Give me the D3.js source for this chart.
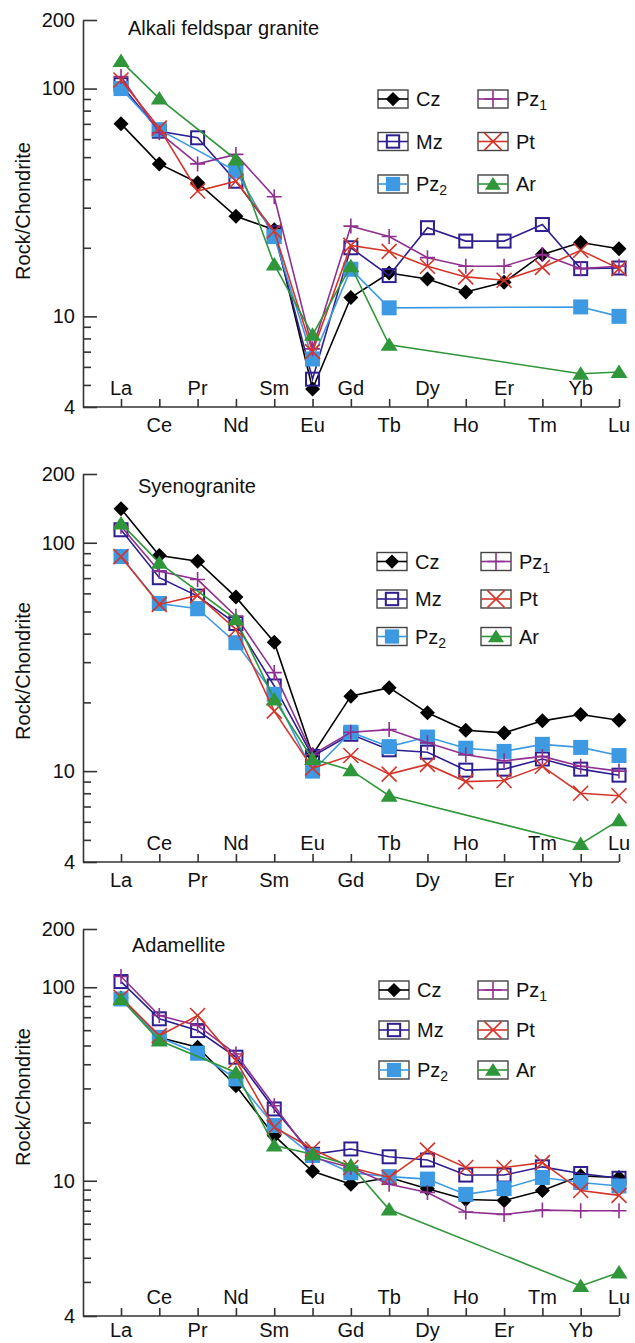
<!DOCTYPE html>
<html>
<head>
<meta charset="utf-8">
<script src="https://cdn.jsdelivr.net/npm/d3@7"></script>
<style>
  body { margin: 0; background: #fff; }
  text { font-family: "Liberation Sans", Arial, sans-serif; fill: #111; }
</style>
</head>
<body>
<div id="chart"></div>
<script>
const width = 635;
const height = 1343;

// REE order along the x axis
const elements = ['La', 'Ce', 'Pr', 'Nd', 'Sm', 'Eu', 'Gd', 'Tb', 'Dy', 'Ho', 'Er', 'Tm', 'Yb', 'Lu'];
// drawing order == legend order (column by column)
const series = ['Cz', 'Mz', 'Pz2', 'Pz1', 'Pt', 'Ar'];
const titles = ['Alkali feldspar granite', 'Syenogranite', 'Adamellite'];

// chondrite normalised values (null = no point plotted)
const alkali_cz  = [70, 46.7, 38.6, 27.5, 24, 4.8, 12.1, 15.5, 14.6, 12.8, 14.1, 18.7, 21.1, 19.8];
const alkali_mz  = [104, 65, 60.8, 39.2, 23.3, 5.3, 20, 15.1, 24.5, 21.4, 21.4, 25.3, 16.2, 16.3];
const alkali_pz2 = [100, 66, null, 43.4, 22.4, 6.5, 16.1, 10.9, null, null, null, null, 11.0, 10.0];
const alkali_pz1 = [113, 64, 46.7, 51.4, 33.5, 7.2, 24.9, 22.4, 18.1, 16.6, 16.6, 18.7, 16.2, 16.6];
const alkali_pt  = [109, 67, 35.5, 39.2, 23.7, 7.0, 20.5, 19.3, 16.6, 14.9, 14.4, 16.4, 19.5, 16.2];
const alkali_ar  = [132, 90.4, null, 48.8, 16.9, 8.3, 16.6, 7.5, null, null, null, null, 5.6, 5.7];

const syeno_cz  = [141, 88, 83, 57.8, 36.7, 11.8, 21.3, 23.2, 18.0, 15.1, 14.7, 16.6, 17.7, 16.7];
const syeno_mz  = [114, 70.3, 58.4, 44.3, 23.6, 11.6, 14.5, 12.4, 12.1, 10.1, 10.2, 11.3, 10.2, 9.6];
const syeno_pz2 = [87, 54.2, 51.4, 36.5, 21.7, 10.0, 14.8, 12.8, 14.1, 12.6, 12.2, 13.1, 12.7, 11.7];
const syeno_pz1 = [118, 75, 69, 47.7, 27, 11.8, 14.8, 15.2, 13.3, 11.8, 11.1, 11.6, 10.5, 10.0];
const syeno_pt  = [86.9, 53.7, 58.8, 41.7, 18.3, 10.3, 11.7, 9.7, 10.7, 9.0, 9.1, 10.5, 8.0, 7.8];
const syeno_ar  = [121.5, 81.7, null, 46.2, 20.6, 11.3, 10.1, 7.8, null, null, null, null, 4.8, 6.1];

const adam_cz  = [88, 55, 49, 31, 17.1, 11.2, 9.6, 10.4, 9.1, 8.0, 7.9, 8.9, 10.6, 10.4];
const adam_mz  = [107, 68.7, 59.7, 43.5, 23.5, 13.7, 14.6, 13.3, 12.8, 10.7, 10.7, 11.8, 10.9, 10.3];
const adam_pz2 = [87, 55.1, 45.6, 33.6, 19.3, 13.5, 11.0, 10.5, 10.2, 8.5, 9.1, 10.4, 9.8, 9.4];
const adam_pz1 = [113.6, 71.4, 63.4, 45.2, 24.4, 13.2, 11.7, 9.6, 8.7, 6.9, 6.7, 7.05, 7.0, 7.0];
const adam_pt  = [88.8, 56.2, 71.4, 41.8, 18.9, 14.6, 11.7, 10.4, 14.4, 11.7, 11.7, 12.4, 8.9, 8.4];
const adam_ar  = [87, 53, null, 36.3, 15.2, 13.7, 12.0, 7.1, null, null, null, null, 2.86, 3.36];

// y axis: domains, labelled ticks and their labels (the last panel is labelled "4" at its foot)
const y_domains = [[4, 200], [4, 200], [2, 200]];
const y_major = [[4, 10, 100, 200], [4, 10, 100, 200], [2, 10, 100, 200]];
const y_major_labels = [['4', '10', '100', '200'], ['4', '10', '100', '200'], ['4', '10', '100', '200']];
const y_minor = [
  [5, 6, 7, 8, 9, 20, 30, 40, 50, 60, 70, 80, 90],
  [5, 6, 7, 8, 9, 20, 30, 40, 50, 60, 70, 80, 90],
  [3, 4, 5, 6, 7, 8, 9, 20, 30, 40, 50, 60, 70, 80, 90]
];

const panel_data = [
  [alkali_cz, alkali_mz, alkali_pz2, alkali_pz1, alkali_pt, alkali_ar],
  [syeno_cz, syeno_mz, syeno_pz2, syeno_pz1, syeno_pt, syeno_ar],
  [adam_cz, adam_mz, adam_pz2, adam_pz1, adam_pt, adam_ar]
];

// ---- layout ----
const axis_x = 83;
const x_range = [121, 619];
const panels = [
  { top: 20,  bottom: 407,  title: [128, 35],  ylab: 211,  inside_even: true,  below: 25,
    legend: { x1: 378, x2: 478, rows: [99, 141.5, 184] } },
  { top: 474, bottom: 862,  title: [138, 493], ylab: 671,  inside_even: false, below: 25,
    legend: { x1: 377, x2: 481, rows: [561.5, 599, 636.5] } },
  { top: 929, bottom: 1316, title: [132, 952], ylab: 1097, inside_even: false, below: 21,
    legend: { x1: 379, x2: 478, rows: [990, 1030, 1070] } }
];

const colors = {
  Cz: '#000000', Mz: '#2d1f8f', Pz2: '#3d9ae2', Pz1: '#8f3090', Pt: '#d4352b', Ar: '#2f963a'
};

const x_scale = d3.scalePoint().domain(elements).range(x_range);

const svg = d3.select('#chart')
  .append('svg')
    .attr('width', width)
    .attr('height', height)
    .style('background', '#fff');

// marker drawing, centred at 0,0; s = scale factor (legend uses the same)
let draw_marker = (g, name, s) => {
  const c = colors[name];
  if (name === 'Cz') {
    g.append('path').attr('d', `M0,${-7.5*s}L${7.5*s},0L0,${7.5*s}L${-7.5*s},0Z`).attr('fill', c);
  } else if (name === 'Mz') {
    g.append('rect').attr('x', -6.5*s).attr('y', -6.5*s).attr('width', 13*s).attr('height', 13*s)
      .attr('fill', 'none').attr('stroke', c).attr('stroke-width', 2);
  } else if (name === 'Pz2') {
    g.append('rect').attr('x', -7.5*s).attr('y', -7.5*s).attr('width', 15*s).attr('height', 15*s)
      .attr('fill', c);
  } else if (name === 'Pz1') {
    g.append('path').attr('d', `M${-7.5*s},0H${7.5*s}M0,${-7.5*s}V${7.5*s}`)
      .attr('stroke', c).attr('stroke-width', 1.6).attr('fill', 'none');
  } else if (name === 'Pt') {
    g.append('path').attr('d', `M${-7.5*s},${-7.5*s}L${7.5*s},${7.5*s}M${-7.5*s},${7.5*s}L${7.5*s},${-7.5*s}`)
      .attr('stroke', c).attr('stroke-width', 1.6).attr('fill', 'none');
  } else if (name === 'Ar') {
    g.append('path').attr('d', `M0,${-7.5*s}L${8.5*s},${6*s}L${-8.5*s},${6*s}Z`).attr('fill', c);
  }
};

panels.forEach((p, pi) => {
  const y_scale = d3.scaleLog()
    .domain(y_domains[pi])
    .range([p.bottom, p.top]);

  const g = svg.append('g').attr('class', 'panel');

  // y axis, ticks pointing into the plot
  g.append('g')
    .attr('transform', `translate(${axis_x},0)`)
    .call(d3.axisLeft(y_scale)
      .tickValues(y_major[pi])
      .tickFormat((d, i) => y_major_labels[pi][i])
      .tickSize(-14)
      .tickSizeOuter(0)
      .tickPadding(8))
    .call(a => a.selectAll('text').attr('font-size', 20).attr('font-family', null).attr('fill', '#111'))
    .call(a => a.selectAll('line, path').attr('stroke', '#333').attr('stroke-width', 1.6))
    .attr('font-family', null);

  g.append('g')
    .attr('transform', `translate(${axis_x},0)`)
    .call(d3.axisLeft(y_scale)
      .tickValues(y_minor[pi])
      .tickFormat('')
      .tickSize(-8))
    .call(a => a.select('.domain').remove())
    .call(a => a.selectAll('line').attr('stroke', '#333').attr('stroke-width', 1.6));

  // x axis: ticks upward, line starts at the y axis
  g.append('g')
    .attr('transform', `translate(0,${p.bottom})`)
    .call(d3.axisBottom(x_scale).tickSize(-8).tickFormat(''))
    .call(a => a.select('.domain').remove())
    .call(a => a.selectAll('line').attr('stroke', '#333').attr('stroke-width', 1.6));
  g.append('line')
    .attr('x1', axis_x).attr('x2', x_scale(elements[elements.length - 1]))
    .attr('y1', p.bottom).attr('y2', p.bottom)
    .attr('stroke', '#333').attr('stroke-width', 1.6);

  // alternating element labels, above and below the axis
  g.selectAll('.el-label')
    .data(elements)
    .join('text')
      .attr('class', 'el-label')
      .attr('x', d => x_scale(d))
      .attr('y', (d, i) => ((i % 2 === 0) === p.inside_even) ? p.bottom - 12 : p.bottom + p.below)
      .attr('text-anchor', 'middle')
      .attr('font-size', 20)
      .text(d => d);

  // axis title and panel title
  g.append('text')
    .attr('transform', `translate(30,${p.ylab}) rotate(-90)`)
    .attr('text-anchor', 'middle')
    .attr('font-size', 20)
    .text('Rock/Chondrite');
  g.append('text')
    .attr('x', p.title[0]).attr('y', p.title[1])
    .attr('font-size', 20)
    .text(titles[pi]);

  // series
  const line = d3.line()
    .x(d => x_scale(d.el))
    .y(d => y_scale(d.v));

  series.forEach((name, si) => {
    const pts = panel_data[pi][si]
      .map((v, i) => ({ el: elements[i], v: v }))
      .filter(d => d.v != null);
    const sg = g.append('g').attr('class', 'series');
    sg.append('path')
      .datum(pts)
      .attr('d', line)
      .attr('fill', 'none')
      .attr('stroke', colors[name])
      .attr('stroke-width', 1.6);
    sg.selectAll('.marker')
      .data(pts)
      .join('g')
        .attr('class', 'marker')
        .attr('transform', d => `translate(${x_scale(d.el)},${y_scale(d.v)})`)
        .each(function() { draw_marker(d3.select(this), name, 1); });
  });

  // legend
  series.forEach((name, si) => {
    const bx = si < 3 ? p.legend.x1 : p.legend.x2;
    const cy = p.legend.rows[si % 3];
    const lg = g.append('g').attr('transform', `translate(${bx},${cy})`);
    lg.append('rect')
      .attr('x', 0).attr('y', -9).attr('width', 30).attr('height', 18)
      .attr('fill', '#fff').attr('stroke', '#444').attr('stroke-width', 1.4);
    lg.append('line')
      .attr('x1', 0).attr('x2', 30).attr('y1', 0).attr('y2', 0)
      .attr('stroke', colors[name]).attr('stroke-width', 1.6);
    const m = lg.append('g').attr('transform', 'translate(15,0)');
    draw_marker(m, name, (name === 'Pz1' || name === 'Pt') ? 1.15 : 0.95);
    const t = lg.append('text')
      .attr('x', 38).attr('y', 0).attr('dy', '0.36em')
      .attr('font-size', 20);
    if (name === 'Pz1' || name === 'Pz2') {
      t.append('tspan').text('Pz');
      t.append('tspan').attr('font-size', 14).attr('dy', 4).text(name.slice(2));
    } else {
      t.text(name);
    }
  });
});
</script>
</body>
</html>
